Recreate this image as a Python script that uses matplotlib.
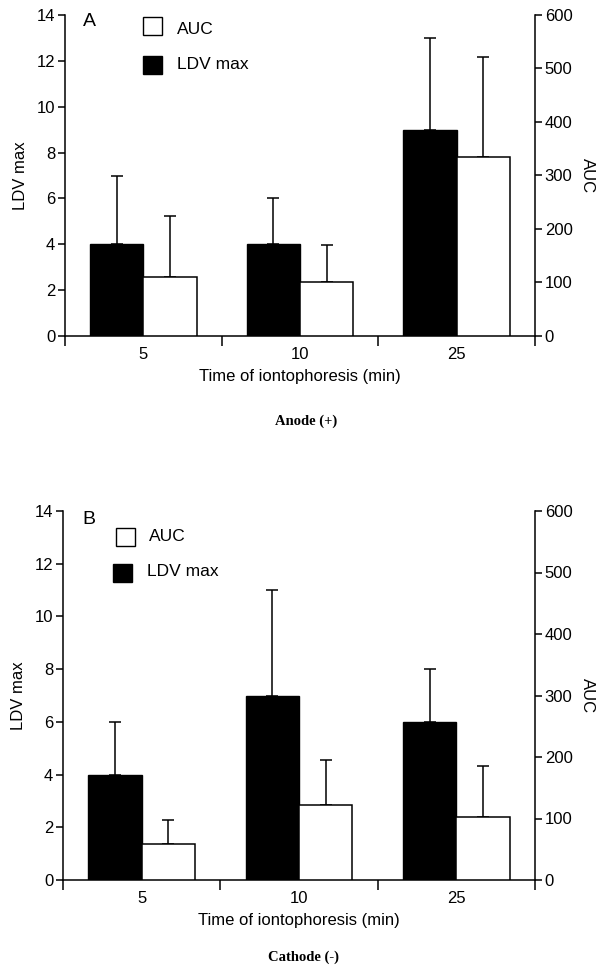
import matplotlib
matplotlib.use("Agg")
import matplotlib.pyplot as plt
from matplotlib.patches import Rectangle
import numpy as np

plt.rcParams['font.family'] = ['Liberation Sans', 'DejaVu Sans']

categories = ["5", "10", "25"]

# Panel A: Anode (+)
ldv_a = [4.0, 4.0, 9.0]
ldv_a_err = [3.0, 2.0, 4.0]
auc_a = [110, 101, 335]
auc_a_err = [115, 70, 187]

# Panel B: Cathode (-)
ldv_b = [4.0, 7.0, 6.0]
ldv_b_err = [2.0, 4.0, 2.0]
auc_b = [58, 122, 103]
auc_b_err = [39, 73, 82]

ldv_ticks = [0, 2, 4, 6, 8, 10, 12, 14]
auc_ticks = [0, 100, 200, 300, 400, 500, 600]

FS = 12
W = 0.34


def panel(fig, rect, ldv, ldv_err, auc, auc_err, letter, leg):
    ax = fig.add_axes(rect)
    ax2 = ax.twinx()
    x = np.arange(len(categories))
    ax.bar(x - W / 2, ldv, W, color="black", edgecolor="black", linewidth=1.0, zorder=2)
    ax.errorbar(x - W / 2, ldv, yerr=[np.zeros(len(ldv)), ldv_err], fmt="none",
                ecolor="black", elinewidth=1.1, capsize=4.5, capthick=1.1, zorder=1)
    ax2.bar(x + W / 2, auc, W, color="white", edgecolor="black", linewidth=1.1, zorder=2)
    ax2.errorbar(x + W / 2, auc, yerr=[np.zeros(len(auc)), auc_err], fmt="none",
                 ecolor="black", elinewidth=1.1, capsize=4.5, capthick=1.1, zorder=1)

    ax.set_xlim(-0.5, 2.5)
    ax.set_ylim(0, 14)
    ax2.set_ylim(0, 600)
    ax.set_yticks(ldv_ticks)
    ax.set_yticklabels([str(t) for t in ldv_ticks], fontsize=FS)
    ax2.set_yticks(auc_ticks)
    ax2.set_yticklabels([str(t) for t in auc_ticks], fontsize=FS)

    ax.set_xticks([-0.5, 0.5, 1.5, 2.5])
    ax.set_xticklabels([])
    ax.set_xticks(x, minor=True)
    ax.set_xticklabels(categories, minor=True, fontsize=FS)
    ax.tick_params(axis="x", which="major", direction="out", length=7, width=1.1)
    ax.tick_params(axis="x", which="minor", length=0, pad=8)
    ax.tick_params(axis="y", direction="out", length=5, width=1.1, pad=2)
    ax2.tick_params(axis="y", direction="out", length=5, width=1.1, pad=2)

    for s in ["top", "right"]:
        ax.spines[s].set_visible(False)
    for s in ["top", "left", "bottom"]:
        ax2.spines[s].set_visible(False)
    for sp in [ax.spines["left"], ax.spines["bottom"], ax2.spines["right"]]:
        sp.set_linewidth(1.1)

    ax.set_ylabel("LDV max", fontsize=FS, labelpad=6)
    ax2.set_ylabel("AUC", fontsize=FS, rotation=270, labelpad=16)
    ax.set_xlabel("Time of iontophoresis (min)", fontsize=FS, labelpad=5)

    lx, ly, wx, wy, bx, by, tx1, ty1, tx2, ty2, sw, sh = leg
    ax.text(lx, ly, letter, transform=ax.transAxes, fontsize=14, va="center", ha="left")
    ax.add_patch(Rectangle((wx, wy), sw, sh, transform=ax.transAxes, facecolor="white",
                           edgecolor="black", linewidth=1.0, clip_on=False, zorder=5))
    ax.add_patch(Rectangle((bx, by), sw, sh, transform=ax.transAxes, facecolor="black",
                           edgecolor="black", linewidth=1.0, clip_on=False, zorder=5))
    ax.text(tx1, ty1, "AUC", transform=ax.transAxes, fontsize=12.5, va="center", ha="left")
    ax.text(tx2, ty2, "LDV max", transform=ax.transAxes, fontsize=12.5, va="center", ha="left")

    return ax


fig = plt.figure(figsize=(6.02, 9.67), dpi=100)

panel(fig, [65 / 602, 1 - 336 / 967, 470 / 602, 321 / 967], ldv_a, ldv_a_err, auc_a, auc_a_err,
      "A",
      (0.038, 0.98, 0.166, 0.938, 0.166, 0.816, 0.238, 0.955, 0.238, 0.847, 0.040, 0.055))
panel(fig, [63 / 602, 1 - 880 / 967, 472 / 602, 369 / 967], ldv_b, ldv_b_err, auc_b, auc_b_err,
      "B",
      (0.042, 0.976, 0.112, 0.905, 0.106, 0.808, 0.182, 0.932, 0.178, 0.835, 0.040, 0.049))

fig.text(306 / 602, 1 - 421 / 967, "Anode (+)", family=["Liberation Serif", "DejaVu Serif"],
         fontweight="bold", fontsize=10.5, ha="center", va="center")
fig.text(304 / 602, 1 - 957 / 967, "Cathode (-)", family=["Liberation Serif", "DejaVu Serif"],
         fontweight="bold", fontsize=10.5, ha="center", va="center")

fig.savefig("out.png", dpi=100)
